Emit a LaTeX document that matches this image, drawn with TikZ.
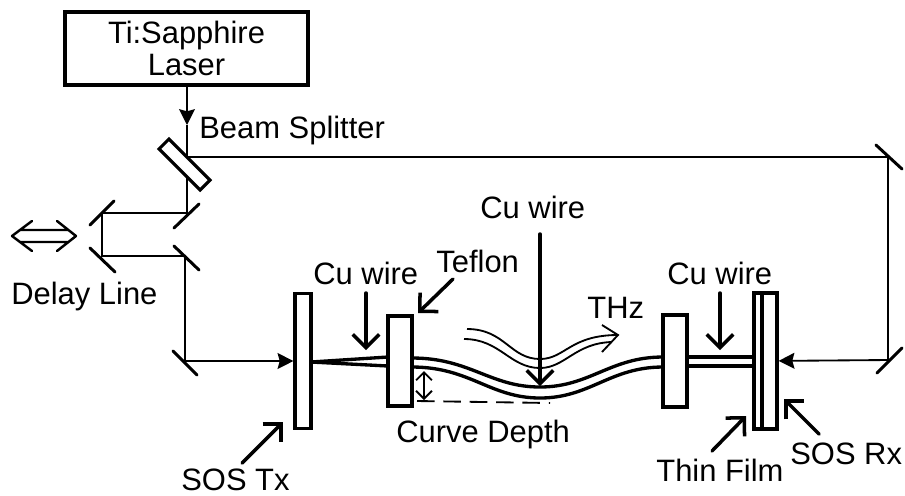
\documentclass[tikz,border=0pt]{standalone}
\usepackage{fontspec}
\setmainfont{Liberation Sans}
\usetikzlibrary{arrows.meta}
\tikzset{every node/.style={font=\fontsize{17.6}{18.2}\selectfont, inner sep=0pt}}
\tikzset{label/.style={anchor=base west}}
\tikzset{plate/.style={draw, fill=white, line width=1.8pt, rectangle}}
\tikzset{beam/.style={line width=1.05pt}}
\tikzset{mirror/.style={line width=1.7pt, line cap=round}}
\tikzset{wire/.style={line width=1.9pt}}
\tikzset{thin line/.style={line width=1.05pt}}
\tikzset{beamtip/.tip={Stealth[length=9pt, width=9pt, inset=1.2pt]}}
\tikzset{barbtip/.tip={Straight Barb[length=4.5pt, width=9pt, line width=1.05pt]}}
\tikzset{pointer/.style={line width=2pt, line cap=round, -{Straight Barb[length=7.5pt, width=15pt, line width=2pt]}}}

\begin{document}
\begin{tikzpicture}[x=0.02cm, y=-0.02cm]

  \useasboundingbox (0,0) rectangle (905,495);

  % Laser and beam splitter.
  \node[draw, line width=2.2pt, minimum width=4.86cm, minimum height=1.46cm, align=center,
    font=\fontsize{17.6}{18.2}\selectfont] (laser) at (186.5,48.5) {Ti:Sapphire\\Laser};
  \node[plate, rotate=-45, minimum width=1.16cm, minimum height=0.28cm] (splitter) at (184.5,164.5) {};
  \node[label] (splitterlabel) at (199,138) {Beam Splitter};

  \coordinate (bsin) at (187,157);
  \coordinate (bstip) at (187,125);
  \coordinate (bsout) at (187,176);
  \draw[beam, -beamtip] (laser.south -| bsin) -- (bstip);
  \draw[beam] (bstip) -- (bsin);

  % Mirrors.
  \coordinate (m1) at (187,213);
  \coordinate (m2) at (102,213);
  \coordinate (m3) at (102,256);
  \coordinate (m4) at (185,256);
  \coordinate (m5) at (185,361);
  \coordinate (m6) at (888,157);
  \coordinate (m7) at (888,360);
  \draw[mirror] (174,228) -- (199,204);
  \draw[mirror] (90,225) -- (114,201);
  \draw[mirror] (90,248) -- (115,272);
  \draw[mirror] (174,246) -- (199,270);
  \draw[mirror] (173,351) -- (197,375);
  \draw[mirror] (876,145) -- (902,169);
  \draw[mirror] (877,373) -- (902,348);

  % Plates.
  \node[plate, minimum width=0.32cm, minimum height=2.7cm] (tx) at (303,361) {};
  \node[plate, minimum width=0.48cm, minimum height=1.8cm] (tefl) at (400,361) {};
  \node[plate, minimum width=0.48cm, minimum height=1.84cm] (tefr) at (675,361) {};
  \node[plate, minimum width=0.46cm, minimum height=2.72cm] (rx) at (765.5,361) {};
  \coordinate (filmtop) at (762,293);
  \coordinate (filmbot) at (762,429);
  \draw[wire] (filmtop) -- (filmbot);

  % Beam paths.
  \draw[beam] (bsout) -- (m1) -- (m2) -- (m3) -- (m4) -- (m5);
  \draw[beam, -beamtip] (m5) -- (tx);
  \draw[beam] (bsin) -- (m6) -- (m7);
  \draw[beam, -beamtip] (m7) -- (rx);

  % Delay stage.
  \draw[line width=1.4pt, line cap=round, line join=round]
    (32,221) -- (12,236) -- (32,251)
    (57,221) -- (76,236) -- (57,251)
    (20,230) -- (68,230)
    (20,242) -- (68,242);
  \node[label] (delay) at (11,304) {Delay Line};

  % Wires.
  \coordinate (wa) at (311,362);
  \coordinate (wb) at (388,357);
  \coordinate (wc) at (388,366);
  \coordinate (wd) at (412,358);
  \coordinate (we) at (412,367);
  \coordinate (wf) at (663,357);
  \coordinate (wg) at (663,367);
  \coordinate (wh) at (687,357);
  \coordinate (wi) at (754,357);
  \coordinate (wj) at (687,366);
  \coordinate (wk) at (754,366);
  \draw[wire] (wa) -- (wb);
  \draw[wire] (wa) -- (wc);
  \draw[wire] (wd) .. controls (470,358) and (490,387) .. (540,387)
    .. controls (590,387) and (610,357) .. (wf);
  \draw[wire] (we) .. controls (470,367) and (490,398) .. (540,398)
    .. controls (590,398) and (610,367) .. (wg);
  \draw[wire] (wh) -- (wi);
  \draw[wire] (wj) -- (wk);

  % Pulse on the wire.
  \draw[thin line] (467,329) .. controls (505,329) and (510,359) .. (540,359)
    .. controls (565,359) and (570,335) .. (618,335);
  \draw[thin line] (464,339) .. controls (500,339) and (510,368) .. (540,368)
    .. controls (565,368) and (575,343) .. (612,342);
  \draw[thin line, line join=miter] (602,325) -- (618,335) -- (602,352);
  \node[label] (thz) at (587,318) {THz};

  % Curve depth.
  \draw[thin line, dash pattern=on 10pt off 5pt] (417,401) -- (550,403);
  \draw[beam, barbtip-barbtip] (424,371) -- (424,400);
  \node[label] (depth) at (396,442) {Curve Depth};

  % Labels with pointers.
  \node[label] (culeft) at (313,284) {Cu wire};
  \coordinate (culeftend) at (366,350);
  \draw[pointer] (366,293) -- (culeftend);

  \node[label] (cumid) at (480,218) {Cu wire};
  \coordinate (cumidend) at (540,386);
  \draw[pointer] (540,234) -- (cumidend);

  \node[label] (curight) at (667,284) {Cu wire};
  \coordinate (curightend) at (720,350);
  \draw[pointer] (720,293) -- (curightend);

  \node[label] (teflon) at (436,272) {Teflon};
  \coordinate (teflonend) at (418,313);
  \draw[pointer] (453,279) -- (teflonend);

  \node[label] (sostx) at (181,490) {SOS Tx};
  \coordinate (sostxend) at (283,422);
  \draw[pointer] (242,463) -- (sostxend);

  \node[label] (film) at (656,481) {Thin Film};
  \coordinate (filmend) at (746,416);
  \draw[pointer] (712,451) -- (filmend);

  \node[label] (sosrx) at (790,464) {SOS Rx};
  \coordinate (sosrxend) at (784,399);
  \draw[pointer] (819,434) -- (sosrxend);

\end{tikzpicture}
\end{document}
